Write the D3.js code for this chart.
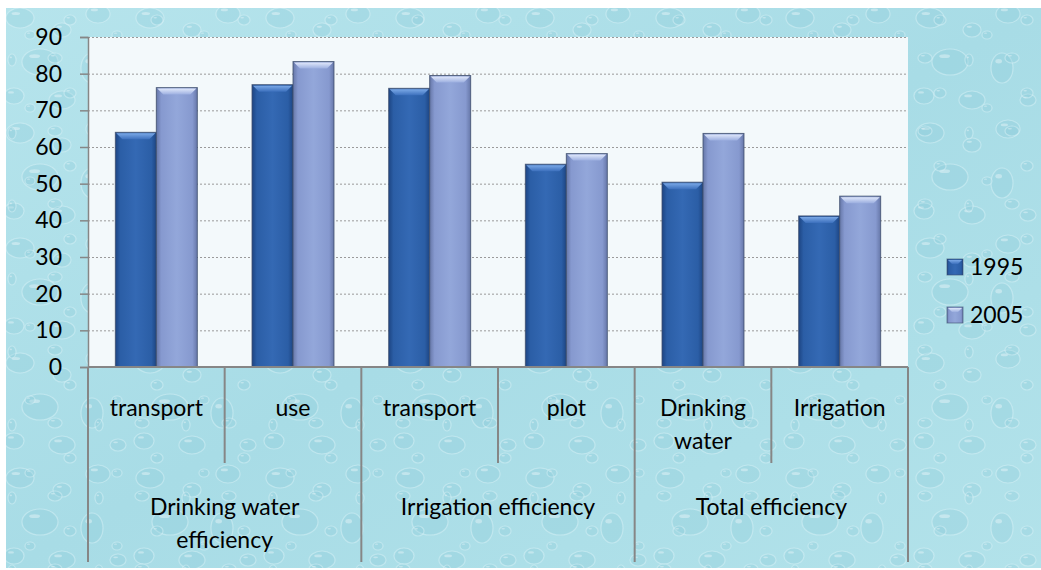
<!DOCTYPE html>
<html>
<head>
<meta charset="utf-8">
<script src="https://cdn.jsdelivr.net/npm/d3@7"></script>
<style>
  body { margin: 0; background: #ffffff; }
  text { font-family: Lato, "Open Sans", sans-serif; fill: #000; }
</style>
</head>
<body>
<script>
// categories: [group, sub-category label lines]
const groups = ["Drinking water efficiency", "Irrigation efficiency", "Total efficiency"];
const groupLines = [["Drinking water", "efficiency"], ["Irrigation efficiency"], ["Total efficiency"]];
const subLabels = [["transport"], ["use"], ["transport"], ["plot"], ["Drinking", "water"], ["Irrigation"]];
const subGroup = [0, 0, 1, 1, 2, 2];
const series = ["1995", "2005"];
const values1995 = [64, 77, 76, 55.3, 50.4, 41.2];
const values2005 = [76.2, 83.3, 79.5, 58.2, 63.7, 46.6];
const yTicks = [0, 10, 20, 30, 40, 50, 60, 70, 80, 90];

const W = 1041, H = 570;
const plot = { left: 88, right: 908, top: 37, bottom: 367 };
const fontSize = "23px";

const svg = d3.select("body").append("svg")
    .attr("width", W)
    .attr("height", H);

const defs = svg.append("defs");

// water-drop background texture
const bgGrad = defs.append("linearGradient").attr("id", "bgGrad")
    .attr("x1", 0).attr("y1", 0).attr("x2", 1).attr("y2", 1);
bgGrad.append("stop").attr("offset", "0%").attr("stop-color", "#b6e4ec");
bgGrad.append("stop").attr("offset", "50%").attr("stop-color", "#a8dce6");
bgGrad.append("stop").attr("offset", "100%").attr("stop-color", "#b2e2ea");

function dropPattern(id, w, h, shapes) {
    const p = defs.append("pattern").attr("id", id)
        .attr("patternUnits", "userSpaceOnUse")
        .attr("width", w).attr("height", h);
    shapes.forEach(function(d) {
        p.append("ellipse")
            .attr("cx", d[0]).attr("cy", d[1]).attr("rx", d[2]).attr("ry", d[3])
            .attr("fill", "#86c9d8").attr("fill-opacity", 0.28)
            .attr("stroke", "#dff4f8").attr("stroke-opacity", 0.45)
            .attr("stroke-width", 1.2);
        p.append("ellipse")
            .attr("cx", d[0] - d[2] * 0.3).attr("cy", d[1] - d[3] * 0.45)
            .attr("rx", d[2] * 0.3).attr("ry", d[3] * 0.15)
            .attr("fill", "#ffffff").attr("fill-opacity", 0.35);
    });
}
dropPattern("drops1", 130, 115, [
    [20, 18, 14, 10], [62, 30, 9, 7], [98, 14, 12, 9], [40, 62, 18, 13],
    [92, 68, 11, 15], [14, 96, 10, 8], [62, 100, 13, 9], [118, 100, 8, 6]
]);
dropPattern("drops2", 87, 73, [
    [30, 35, 5, 4], [70, 20, 6, 5], [12, 60, 4, 6], [55, 58, 7, 5]
]);

[ "url(#bgGrad)", "url(#drops1)", "url(#drops2)" ].forEach(function(f) {
    svg.append("rect").attr("x", 6).attr("y", 8)
        .attr("width", W - 6).attr("height", H - 10)
        .attr("fill", f);
});

// bar gradients
function barGradient(id, edge, mid, light) {
    const g = defs.append("linearGradient").attr("id", id)
        .attr("x1", 0).attr("y1", 0).attr("x2", 1).attr("y2", 0);
    g.append("stop").attr("offset", "0%").attr("stop-color", edge);
    g.append("stop").attr("offset", "12%").attr("stop-color", mid);
    g.append("stop").attr("offset", "50%").attr("stop-color", light);
    g.append("stop").attr("offset", "88%").attr("stop-color", mid);
    g.append("stop").attr("offset", "100%").attr("stop-color", edge);
}
barGradient("g1995", "#1d4583", "#2b5ea6", "#3469b4");
barGradient("g2005", "#6677a8", "#8699cf", "#93a7da");

function capGradient(id, top, bottom) {
    const g = defs.append("linearGradient").attr("id", id)
        .attr("x1", 0).attr("y1", 0).attr("x2", 0).attr("y2", 1);
    g.append("stop").attr("offset", "0%").attr("stop-color", top);
    g.append("stop").attr("offset", "100%").attr("stop-color", bottom);
}
capGradient("c1995", "#7aa8e6", "#3c70bd");
capGradient("c2005", "#dfe7fa", "#9cafe0");

// plot area
svg.append("rect")
    .attr("x", plot.left).attr("y", plot.top)
    .attr("width", plot.right - plot.left).attr("height", plot.bottom - plot.top)
    .attr("fill", "#f3f9fb");

// scales
const y = d3.scaleLinear().domain([0, 90]).range([plot.bottom, plot.top]);
const x0 = d3.scaleBand().domain(d3.range(subLabels.length)).range([plot.left, plot.right]);
const x1 = d3.scaleBand().domain(series).range([0, x0.bandwidth()])
    .paddingInner(0).paddingOuter(0.667);

// gridlines
svg.append("g").selectAll("line")
    .data(yTicks.filter(function(t) { return t > 0; }))
    .enter().append("line")
    .attr("x1", plot.left).attr("x2", plot.right)
    .attr("y1", function(d) { return y(d) + 0.5; })
    .attr("y2", function(d) { return y(d) + 0.5; })
    .attr("stroke", "#9a9a9a")
    .attr("stroke-width", 1)
    .attr("stroke-dasharray", "2,2");

// y axis
const yAxis = svg.append("g")
    .attr("transform", "translate(" + plot.left + ",0)")
    .call(d3.axisLeft(y).tickValues(yTicks).tickSize(8).tickPadding(18));
yAxis.select(".domain").attr("stroke", "#868686").attr("stroke-width", 1.5);
yAxis.selectAll(".tick line").attr("stroke", "#868686").attr("stroke-width", 1.5);
yAxis.selectAll(".tick text")
    .style("font-family", "Lato, 'Open Sans', sans-serif")
    .style("font-size", fontSize)
    .attr("fill", "#000");

// bars
const data = [];
subLabels.forEach(function(s, i) {
    data.push({ cat: i, year: "1995", value: values1995[i] });
    data.push({ cat: i, year: "2005", value: values2005[i] });
});

const bars = svg.append("g").selectAll("g.bar")
    .data(data)
    .enter().append("g")
    .attr("class", "bar");

bars.append("rect")
    .attr("x", function(d) { return x0(d.cat) + x1(d.year); })
    .attr("y", function(d) { return y(d.value); })
    .attr("width", x1.bandwidth())
    .attr("height", function(d) { return y(0) - y(d.value); })
    .attr("fill", function(d) { return "url(#g" + d.year + ")"; })
    .attr("stroke", "#3d4d6b")
    .attr("stroke-opacity", 0.8)
    .attr("stroke-width", 1);

// bevel cap on top of each bar
bars.append("path")
    .attr("d", function(d) {
        const bx = x0(d.cat) + x1(d.year), bw = x1.bandwidth(), by = y(d.value);
        const b = 7;
        return "M" + (bx + 1) + "," + (by + 1) + "L" + (bx + bw - 1) + "," + (by + 1) +
               "L" + (bx + bw - b) + "," + (by + b) + "L" + (bx + b) + "," + (by + b) + "Z";
    })
    .attr("fill", function(d) { return "url(#c" + d.year + ")"; });

// x axis line and category separators
const axisColor = "#868686";
svg.append("line")
    .attr("x1", plot.left).attr("x2", plot.right)
    .attr("y1", plot.bottom).attr("y2", plot.bottom)
    .attr("stroke", axisColor).attr("stroke-width", 2);

const bounds = d3.range(subLabels.length + 1).map(function(i) {
    return i < subLabels.length ? x0(i) : plot.right;
});
svg.append("g").selectAll("line")
    .data(bounds)
    .enter().append("line")
    .attr("x1", function(d) { return d; })
    .attr("x2", function(d) { return d; })
    .attr("y1", plot.bottom)
    .attr("y2", function(d, i) { return (i % 2 === 0) ? 562 : 463; })
    .attr("stroke", axisColor)
    .attr("stroke-width", 2);

// sub-category labels
const subText = svg.append("g").selectAll("text")
    .data(subLabels)
    .enter().append("text")
    .attr("x", function(d, i) { return x0(i) + x0.bandwidth() / 2; })
    .attr("y", 408)
    .attr("text-anchor", "middle")
    .style("font-size", fontSize);
subText.selectAll("tspan")
    .data(function(d) { return d; })
    .enter().append("tspan")
    .attr("x", function() { return this.parentNode.getAttribute("x"); })
    .attr("dy", function(d, i) { return i === 0 ? "0.35em" : "33px"; })
    .text(function(d) { return d; });

// group labels
const groupText = svg.append("g").selectAll("text")
    .data(groupLines)
    .enter().append("text")
    .attr("x", function(d, i) { return x0(i * 2) + x0.bandwidth(); })
    .attr("y", 507)
    .attr("text-anchor", "middle")
    .style("font-size", fontSize);
groupText.selectAll("tspan")
    .data(function(d) { return d; })
    .enter().append("tspan")
    .attr("x", function() { return this.parentNode.getAttribute("x"); })
    .attr("dy", function(d, i) { return i === 0 ? "0.35em" : "33px"; })
    .text(function(d) { return d; });

// legend
const legend = svg.append("g").selectAll("g")
    .data(series)
    .enter().append("g")
    .attr("transform", function(d, i) { return "translate(947," + (259 + i * 48) + ")"; });
legend.append("rect")
    .attr("width", 16).attr("height", 16)
    .attr("fill", function(d) { return "url(#g" + d + ")"; })
    .attr("stroke", "#3d4d6b").attr("stroke-opacity", 0.6);
legend.append("path")
    .attr("d", "M1,1L15,1L11,5L5,5Z")
    .attr("fill", function(d) { return "url(#c" + d + ")"; });
legend.append("text")
    .attr("x", 23).attr("y", 8)
    .attr("dy", "0.35em")
    .style("font-size", fontSize)
    .text(function(d) { return d; });
</script>
</body>
</html>
